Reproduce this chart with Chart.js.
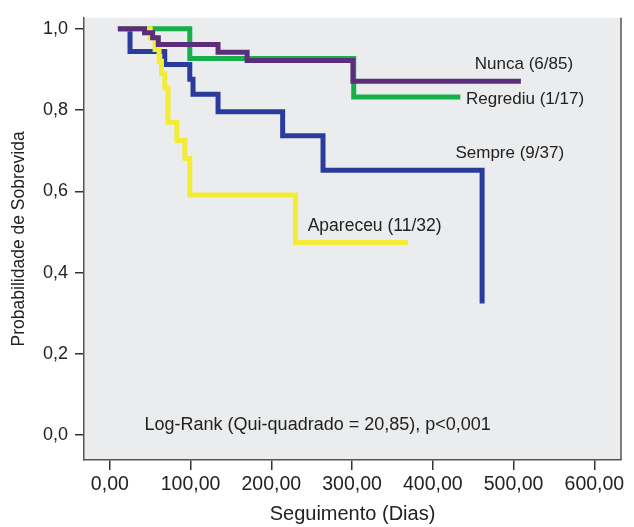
<!DOCTYPE html>
<html>
<head>
<meta charset="utf-8">
<script src="https://cdn.jsdelivr.net/npm/chart.js@4"></script>
<style>
  html, body { margin: 0; padding: 0; background: #fff; }
  #wrap { width: 634px; height: 527px; position: relative; }
</style>
</head>
<body>
<div id="wrap"><canvas id="km-chart"></canvas></div>
<script>
// survival curves (days, survival probability)
const nuncaDays = [10, 43, 53, 60, 134, 170, 301, 509];
const nuncaSurv = [1.0, 0.99, 0.978, 0.961, 0.942, 0.922, 0.871, 0.871];

const regrediuDays = [10, 99, 302, 434];
const regrediuSurv = [1.0, 0.927, 0.832, 0.832];

const sempreDays = [10, 25, 68, 99, 103, 134, 214, 264, 461];
const sempreSurv = [1.0, 0.944, 0.912, 0.876, 0.839, 0.796, 0.737, 0.652, 0.324];

const apareceuDays = [10, 50, 56, 61, 64, 68, 72, 83, 93, 99, 230, 369];
const apareceuSurv = [1.0, 0.978, 0.949, 0.92, 0.89, 0.855, 0.77, 0.725, 0.681, 0.591, 0.474, 0.474];

const xTicks = [0, 100, 200, 300, 400, 500, 600];
const yTicks = [0, 0.2, 0.4, 0.6, 0.8, 1.0];

const toPoints = (days, surv) => days.map((d, i) => ({x: d, y: surv[i]}));

const FONT = "'Liberation Sans', Arial, sans-serif";

// grey plot area, right border and the text labels inside the plot
const kmDecor = {
  id: 'kmDecor',
  beforeDraw(chart) {
    const {ctx, chartArea: {left, top, width, height}} = chart;
    ctx.save();
    ctx.fillStyle = '#ebeced';
    ctx.fillRect(left, top, width, height);
    ctx.restore();
  },
  afterDraw(chart, args, opts) {
    const {ctx, chartArea: {right, top, bottom}, scales: {x, y}} = chart;
    ctx.save();
    ctx.strokeStyle = '#555';
    ctx.lineWidth = 1.5;
    ctx.beginPath();
    ctx.moveTo(right, top);
    ctx.lineTo(right, bottom);
    ctx.stroke();
    ctx.fillStyle = '#222';
    ctx.textAlign = 'left';
    ctx.textBaseline = 'middle';
    opts.labels.forEach(l => {
      ctx.font = l.size + 'px ' + FONT;
      ctx.fillText(l.text, x.getPixelForValue(l.x), y.getPixelForValue(l.y));
    });
    ctx.restore();
  }
};

// step down at each event time, flat until the next one
const lineStyle = {
  borderWidth: 5,
  pointRadius: 0,
  stepped: 'before',
  fill: false,
  borderCapStyle: 'butt',
  borderJoinStyle: 'miter'
};

new Chart("km-chart", {
  type: 'line',
  data: {
    datasets: [
      Object.assign({label: "Sempre (9/37)", data: toPoints(sempreDays, sempreSurv),
        borderColor: "rgb(42, 60, 155)", backgroundColor: "rgb(42, 60, 155)", order: 4}, lineStyle),
      Object.assign({label: "Regrediu (1/17)", data: toPoints(regrediuDays, regrediuSurv),
        borderColor: "rgb(24, 174, 76)", backgroundColor: "rgb(24, 174, 76)", order: 3}, lineStyle),
      Object.assign({label: "Nunca (6/85)", data: toPoints(nuncaDays, nuncaSurv),
        borderColor: "rgb(92, 44, 125)", backgroundColor: "rgb(92, 44, 125)", order: 1}, lineStyle),
      Object.assign({label: "Apareceu (11/32)", data: toPoints(apareceuDays, apareceuSurv),
        borderColor: "rgb(243, 236, 55)", backgroundColor: "rgb(243, 236, 55)", order: 2}, lineStyle)
    ]
  },
  options: {
    responsive: true,
    maintainAspectRatio: false,
    animation: false,
    layout: { padding: {left: 0, top: 13, right: 13, bottom: 0} },
    plugins: {
      legend: { display: false },
      tooltip: { enabled: false },
      kmDecor: {
        labels: [
          {text: "Nunca (6/85)", x: 452, y: 0.912, size: 17},
          {text: "Regrediu (1/17)", x: 441, y: 0.826, size: 17},
          {text: "Sempre (9/37)", x: 428, y: 0.694, size: 17},
          {text: "Apareceu (11/32)", x: 245, y: 0.514, size: 17.5},
          {text: "Log-Rank (Qui-quadrado = 20,85), p<0,001", x: 43, y: 0.024, size: 18}
        ]
      }
    },
    scales: {
      x: {
        type: 'linear',
        min: -32,
        max: 633,
        afterFit: s => { s.height = 67; },
        afterBuildTicks: s => { s.ticks = xTicks.map(v => ({value: v})); },
        grid: { drawOnChartArea: false, drawTicks: true, tickLength: 10, color: '#333', lineWidth: 1.5 },
        border: { display: true, color: '#555', width: 1.5 },
        ticks: {
          padding: 3,
          color: '#222',
          font: { family: FONT, size: 19.5 },
          maxRotation: 0,
          callback: v => v.toFixed(2).replace('.', ',')
        },
        title: {
          display: true,
          text: "Seguimento (Dias)",
          color: '#222',
          font: { family: FONT, size: 20 },
          padding: { top: 4, bottom: 1 }
        }
      },
      y: {
        min: -0.061,
        max: 1.027,
        afterFit: s => { s.width = 84; },
        afterBuildTicks: s => { s.ticks = yTicks.map(v => ({value: v})); },
        grid: { drawOnChartArea: false, drawTicks: true, tickLength: 9, color: '#333', lineWidth: 1.5 },
        border: { display: true, color: '#555', width: 1.5 },
        ticks: {
          padding: 7,
          color: '#222',
          font: { family: FONT, size: 18 },
          callback: v => v.toFixed(1).replace('.', ',')
        },
        title: {
          display: true,
          text: "Probabilidade de Sobrevida",
          color: '#222',
          font: { family: FONT, size: 17.5 },
          padding: { top: 9, bottom: 4 }
        }
      }
    }
  },
  plugins: [kmDecor]
});
</script>
</body>
</html>
